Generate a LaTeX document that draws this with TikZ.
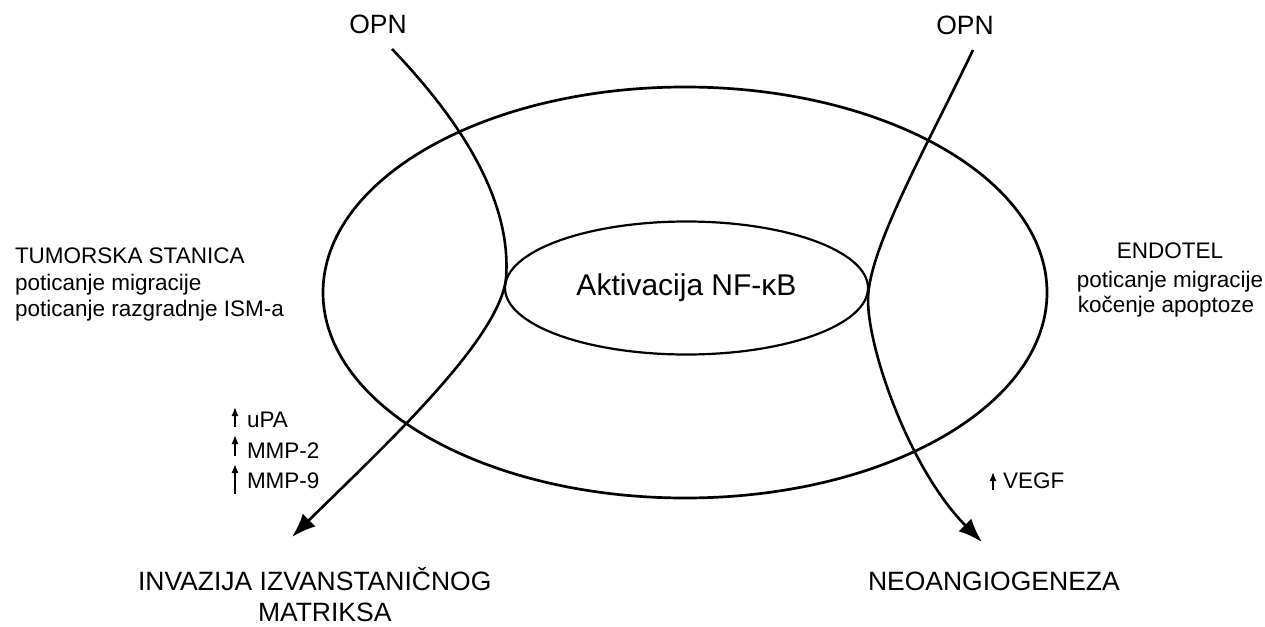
\documentclass[tikz,border=0pt]{standalone}
\usepackage{fontspec}
\setmainfont{Liberation Sans}
\usetikzlibrary{arrows.meta,shapes.geometric}
\begin{document}
\begin{tikzpicture}[x=1pt,y=-1pt,
  lbl/.style={inner sep=0pt, outer sep=0pt, font=\fontsize{22.5}{26}\selectfont},
  big/.style={inner sep=0pt, outer sep=0pt, font=\fontsize{26.5}{30}\selectfont},
  ring/.style={draw, ellipse, inner sep=0pt, outer sep=0pt},
  flow/.style={line width=2.6pt, -{Latex[length=24pt,width=18pt]}},
  uparrow/.style={line width=1.3pt, -{Latex[length=9pt,width=7pt]}}]
\useasboundingbox (0,0) rectangle (1265,626);
% cell and inner ellipse
\node[ring, line width=2.7pt, minimum width=724pt, minimum height=411pt] (cell) at (685,292.5) {};
\node[ring, line width=2.2pt, minimum width=363pt, minimum height=133pt,
      font=\fontsize{30}{34}\selectfont] (nfkb) at (686.5,288) {Aktivacija NF-κB};
% OPN labels
\node[big, anchor=base] (opnL) at (378,34) {OPN};
\node[big, anchor=base] (opnR) at (965,35) {OPN};
% left texts
\node[lbl, anchor=base west] (tum1) at (15,263) {TUMORSKA STANICA};
\node[lbl, anchor=base west] (tum2) at (15,290) {poticanje migracije};
\node[lbl, anchor=base west] (tum3) at (15,316) {poticanje razgradnje ISM-a};
% right texts
\node[lbl, anchor=base] (end1) at (1170,258) {ENDOTEL};
\node[lbl, anchor=base] (end2) at (1170,287) {poticanje migracije};
\node[lbl, anchor=base] (end3) at (1166,312) {kočenje apoptoze};
% factors
\node[lbl, anchor=base west] (upa) at (247,427) {uPA};
\node[lbl, anchor=base west] (mmp2) at (247,458) {MMP-2};
\node[lbl, anchor=base west] (mmp9) at (247,488) {MMP-9};
\node[lbl, anchor=base west] (vegf) at (1003,488) {VEGF};
\draw[uparrow] (235,427) -- (235,407);
\draw[uparrow] (235,456) -- (235,435);
\draw[uparrow] (235,494) -- (235,464);
\draw[uparrow] (993,490) -- (993,472);
% outcomes
\node[big, anchor=base west] (inv1) at (138,590) {INVAZIJA IZVANSTANIČNOG};
\node[big, anchor=base west] (inv2) at (258,621) {MATRIKSA};
\node[big, anchor=base west] (neo) at (868,590) {NEOANGIOGENEZA};
% flows
\coordinate (lstart) at (392,49);
\coordinate (lmid) at (506,278);
\coordinate (lend) at (292,537);
\coordinate (rstart) at (973,50);
\coordinate (rmid) at (868,300);
\coordinate (rend) at (982,542);
\draw[flow] (lstart) .. controls (460,120) and (512,200) .. (lmid)
                     .. controls (500,340) and (380,450) .. (lend);
\draw[flow] (rstart) .. controls (925,150) and (868,250) .. (rmid)
                     .. controls (868,350) and (910,470) .. (rend);
\end{tikzpicture}
\end{document}
